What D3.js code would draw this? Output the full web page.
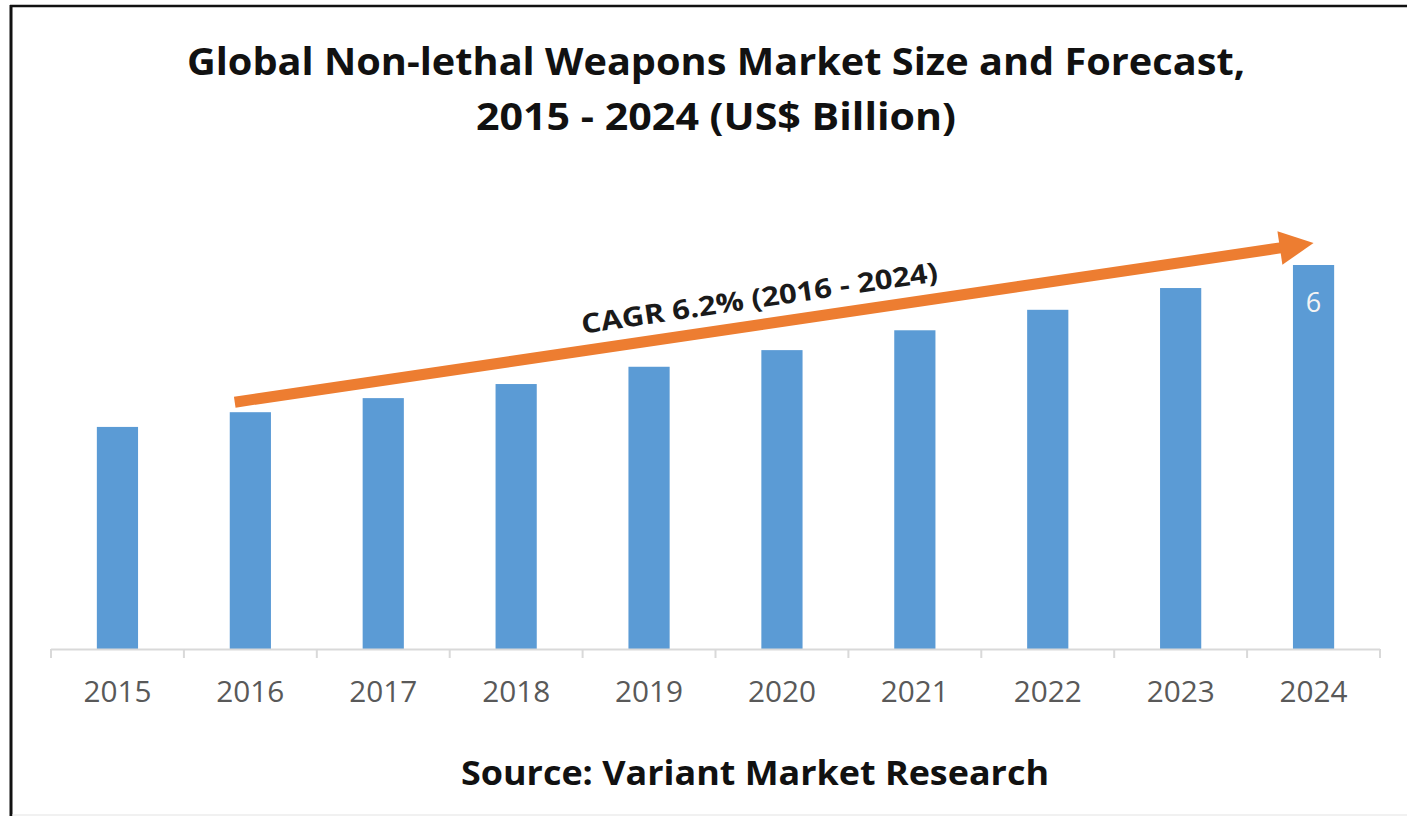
<!DOCTYPE html>
<html>
<head>
<meta charset="utf-8">
<script src="https://cdn.jsdelivr.net/npm/d3@7"></script>
<style>
  html, body { margin: 0; padding: 0; background: #fff; }
  svg { display: block; font-family: "Open Sans", "DejaVu Sans", sans-serif; }
</style>
</head>
<body>
<svg id="chart" width="1407" height="816"></svg>
<script>
// data (US$ Billion)
var years = ['2015', '2016', '2017', '2018', '2019', '2020', '2021', '2022', '2023', '2024'];
var values = [3.47, 3.70, 3.92, 4.14, 4.41, 4.67, 4.98, 5.30, 5.64, 6.0];
var shownLabels = { '2024': '6' };
var titleLines = ['Global Non-lethal Weapons Market Size and Forecast,', '2015 - 2024 (US$ Billion)'];
var cagrText = 'CAGR 6.2% (2016 - 2024)';
var sourceText = 'Source: Variant Market Research';

var svg = d3.select('#chart');
var W = 1407, H = 816;

// frame
svg.append('line').attr('x1', 10).attr('x2', W).attr('y1', 6).attr('y2', 6)
  .attr('stroke', '#111').attr('stroke-width', 2.5);
svg.append('line').attr('x1', 11).attr('x2', 11).attr('y1', 5).attr('y2', H)
  .attr('stroke', '#111').attr('stroke-width', 3);
svg.append('line').attr('x1', 12).attr('x2', W).attr('y1', 815).attr('y2', 815)
  .attr('stroke', '#e3e3e3').attr('stroke-width', 1);

var x = d3.scaleBand()
  .domain(years)
  .range([51, 1380])
  .paddingInner(0.69)
  .paddingOuter(0.345);

var y = d3.scaleLinear()
  .domain([0, 6])
  .range([649, 265]);

var step = x.step();
var x0 = x.range()[0];

// bars
svg.append('g').attr('class', 'bars')
  .selectAll('rect')
  .data(years)
  .enter().append('rect')
  .attr('x', function(d) { return x(d); })
  .attr('y', function(d, i) { return y(values[i]); })
  .attr('width', x.bandwidth())
  .attr('height', function(d, i) { return y(0) - y(values[i]); })
  .attr('fill', '#5B9BD5');

// value label
svg.append('g')
  .selectAll('text')
  .data(years.filter(function(d) { return shownLabels[d]; }))
  .enter().append('text')
  .attr('x', function(d) { return x(d) + x.bandwidth() / 2; })
  .attr('y', function(d) { return y(values[years.indexOf(d)]) + 47; })
  .attr('text-anchor', 'middle')
  .attr('font-size', 27)
  .attr('fill', '#f4f4f4')
  .text(function(d) { return shownLabels[d]; });

// x axis: line, category boundary ticks, labels
var axis = svg.append('g').attr('class', 'x-axis');
axis.append('line')
  .attr('x1', x0).attr('x2', x.range()[1])
  .attr('y1', y(0) + 0.5).attr('y2', y(0) + 0.5)
  .attr('stroke', '#d9d9d9').attr('stroke-width', 2);
axis.selectAll('line.tick')
  .data(d3.range(years.length + 1))
  .enter().append('line')
  .attr('class', 'tick')
  .attr('x1', function(i) { return x0 + i * step; })
  .attr('x2', function(i) { return x0 + i * step; })
  .attr('y1', y(0)).attr('y2', y(0) + 9)
  .attr('stroke', '#d9d9d9').attr('stroke-width', 2);

var labels = svg.append('g')
  .attr('transform', 'translate(0,' + y(0) + ')')
  .call(d3.axisBottom(x).tickSize(0).tickPadding(0));
labels.select('.domain').remove();
labels.selectAll('text')
  .attr('dy', null)
  .attr('y', 53)
  .attr('font-family', '"Open Sans", sans-serif')
  .attr('font-size', 29)
  .attr('fill', '#595959')
  .attr('textLength', 68)
  .attr('lengthAdjust', 'spacingAndGlyphs');

// CAGR arrow
var ax1 = x('2016') + 5, ay1 = y(values[1]) - 10;
var ax2 = x('2024') + x.bandwidth() / 2, ay2 = y(values[9]) - 22;
var ang = Math.atan2(ay2 - ay1, ax2 - ax1);
var headLen = 34, headHalf = 17;
var bx = ax2 - headLen * Math.cos(ang), by = ay2 - headLen * Math.sin(ang);
var nx = -Math.sin(ang), ny = Math.cos(ang);

svg.append('line')
  .attr('x1', ax1).attr('y1', ay1)
  .attr('x2', bx + 2 * Math.cos(ang)).attr('y2', by + 2 * Math.sin(ang))
  .attr('stroke', '#ED7D31').attr('stroke-width', 11);
svg.append('polygon')
  .attr('points', [
    [ax2, ay2],
    [bx + nx * headHalf, by + ny * headHalf],
    [bx - nx * headHalf, by - ny * headHalf]
  ].map(function(p) { return p.join(','); }).join(' '))
  .attr('fill', '#ED7D31');

// CAGR text along the arrow
var t = 0.49;
var tx = ax1 + (ax2 - ax1) * t - nx * 17;
var ty = ay1 + (ay2 - ay1) * t - ny * 17;
svg.append('text')
  .attr('transform', 'translate(' + tx + ',' + ty + ') rotate(' + (ang * 180 / Math.PI) + ')')
  .attr('text-anchor', 'middle')
  .attr('font-size', 27)
  .attr('font-weight', 'bold')
  .attr('fill', '#1a1a1a')
  .attr('textLength', 360)
  .attr('lengthAdjust', 'spacingAndGlyphs')
  .text(cagrText);

// title
var titleSpecs = [
  { y: 75, width: 1058 },
  { y: 130, width: 480 }
];
svg.append('g').selectAll('text')
  .data(titleLines)
  .enter().append('text')
  .attr('x', 716)
  .attr('y', function(d, i) { return titleSpecs[i].y; })
  .attr('text-anchor', 'middle')
  .attr('font-size', 38)
  .attr('font-weight', 'bold')
  .attr('fill', '#111')
  .attr('textLength', function(d, i) { return titleSpecs[i].width; })
  .attr('lengthAdjust', 'spacingAndGlyphs')
  .text(function(d) { return d; });

// source
svg.append('text')
  .attr('x', 755)
  .attr('y', 785)
  .attr('text-anchor', 'middle')
  .attr('font-size', 34)
  .attr('font-weight', 'bold')
  .attr('fill', '#111')
  .attr('textLength', 588)
  .attr('lengthAdjust', 'spacingAndGlyphs')
  .text(sourceText);
</script>
</body>
</html>
